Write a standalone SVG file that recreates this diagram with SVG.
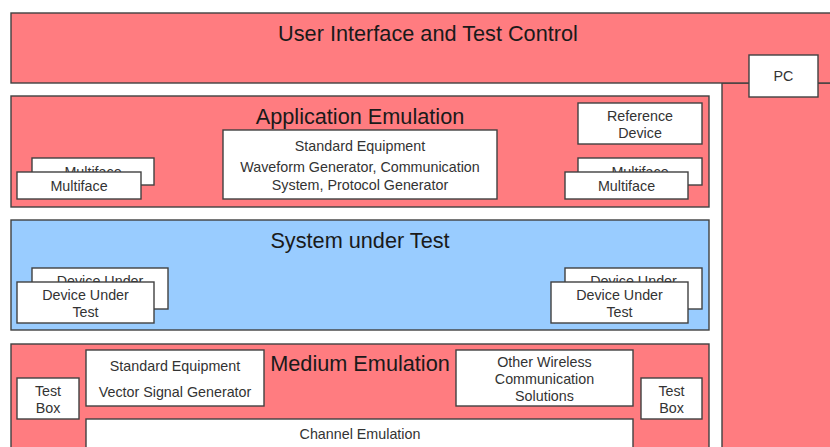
<svg xmlns="http://www.w3.org/2000/svg" width="830" height="447" viewBox="0 0 830 447">
<style>
.layer{fill:#FF7C80;stroke:#404040;stroke-width:1.4}
.sut{fill:#99CCFF;stroke:#404040;stroke-width:1.4}
.box{fill:#FFFFFF;stroke:#404040;stroke-width:1.4}
.t{font-family:"Liberation Sans",Arial,sans-serif;fill:#1a1a1a;text-anchor:middle}
.big{font-size:21.7px}
.sm{font-size:14.3px;fill:#333333}
</style>
<rect width="830" height="447" fill="#FFFFFF"/>
<g id="ui-test-control">
<rect class="layer" x="722" y="83" width="112" height="370"/>
<rect class="layer" x="11" y="13" width="823" height="70"/>
<text class="t big" x="428" y="40.5">User Interface and Test Control</text>
</g>
<g id="pc">
<rect class="box" x="749" y="55" width="69" height="42"/>
<text class="t sm" x="783.5" y="81">PC</text>
</g>
<g id="application-emulation">
<rect class="layer" x="11" y="96" width="698" height="111"/>
<text class="t big" x="360" y="123.5">Application Emulation</text>
</g>
<g id="std-equipment-app">
<rect class="box" x="223" y="130" width="274" height="69"/>
<text class="t sm" x="360" y="151">Standard Equipment</text>
<text class="t sm" x="360" y="172">Waveform Generator, Communication</text>
<text class="t sm" x="360" y="189.5">System, Protocol Generator</text>
</g>
<g id="multiface-left-back">
<rect class="box" x="32" y="158" width="122" height="27"/>
<text class="t sm" x="93" y="176.5">Multiface</text>
</g>
<g id="multiface-left">
<rect class="box" x="17" y="172" width="124" height="27"/>
<text class="t sm" x="79" y="191">Multiface</text>
</g>
<g id="reference-device">
<rect class="box" x="578" y="103" width="124" height="41"/>
<text class="t sm" x="640" y="121">Reference</text>
<text class="t sm" x="640" y="138">Device</text>
</g>
<g id="multiface-right-back">
<rect class="box" x="578" y="158" width="124" height="27"/>
<text class="t sm" x="640" y="176.5">Multiface</text>
</g>
<g id="multiface-right">
<rect class="box" x="565" y="172" width="123" height="27"/>
<text class="t sm" x="626.5" y="191">Multiface</text>
</g>
<g id="system-under-test">
<rect class="sut" x="11" y="220" width="698" height="110"/>
<text class="t big" x="360" y="247.5">System under Test</text>
</g>
<g id="dut-left-back">
<rect class="box" x="32" y="268" width="136" height="41"/>
<text class="t sm" x="100" y="285.5">Device Under</text>
<text class="t sm" x="100" y="302.5">Test</text>
</g>
<g id="dut-left">
<rect class="box" x="17" y="282" width="137" height="41"/>
<text class="t sm" x="85.5" y="299.5">Device Under</text>
<text class="t sm" x="85.5" y="317">Test</text>
</g>
<g id="dut-right-back">
<rect class="box" x="565" y="268" width="137" height="41"/>
<text class="t sm" x="633.5" y="285.5">Device Under</text>
<text class="t sm" x="633.5" y="302.5">Test</text>
</g>
<g id="dut-right">
<rect class="box" x="551" y="282" width="137" height="41"/>
<text class="t sm" x="619.5" y="299.5">Device Under</text>
<text class="t sm" x="619.5" y="317">Test</text>
</g>
<g id="medium-emulation">
<rect class="layer" x="11" y="344" width="698" height="110"/>
<text class="t big" x="360" y="370.5">Medium Emulation</text>
</g>
<g id="std-equipment-medium">
<rect class="box" x="86" y="350" width="178" height="56"/>
<text class="t sm" x="175" y="371">Standard Equipment</text>
<text class="t sm" x="175" y="397">Vector Signal Generator</text>
</g>
<g id="test-box-left">
<rect class="box" x="17" y="378" width="62" height="41"/>
<text class="t sm" x="48" y="396">Test</text>
<text class="t sm" x="48" y="413">Box</text>
</g>
<g id="other-wireless">
<rect class="box" x="456" y="350" width="177" height="56"/>
<text class="t sm" x="544.5" y="367">Other Wireless</text>
<text class="t sm" x="544.5" y="384">Communication</text>
<text class="t sm" x="544.5" y="401">Solutions</text>
</g>
<g id="test-box-right">
<rect class="box" x="641" y="378" width="61" height="41"/>
<text class="t sm" x="671.5" y="396">Test</text>
<text class="t sm" x="671.5" y="413">Box</text>
</g>
<g id="channel-emulation">
<rect class="box" x="86" y="419" width="547" height="40"/>
<text class="t sm" x="360" y="439">Channel Emulation</text>
</g>
<g id="connectors"></g>
</svg>
